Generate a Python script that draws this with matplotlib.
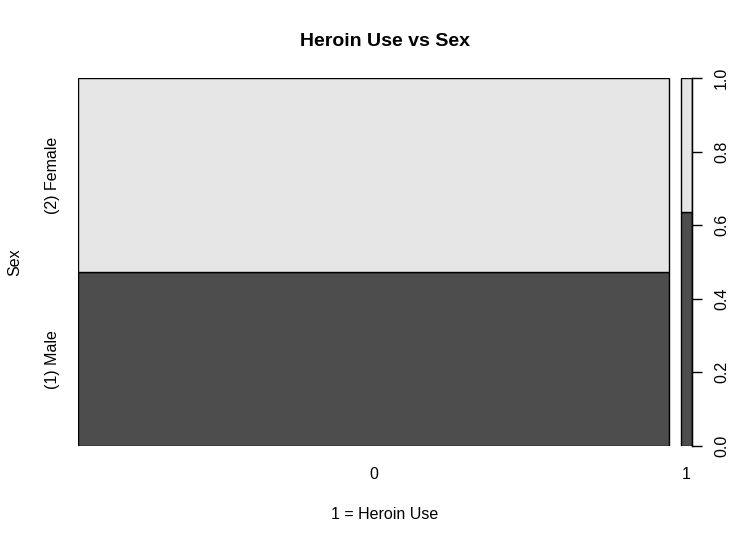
import matplotlib
matplotlib.use("Agg")
import matplotlib.pyplot as plt
import numpy as np

plt.rcParams['font.family'] = ['Liberation Sans', 'DejaVu Sans']

heroin_levels = ['0', '1']
heroin_share = [0.982, 0.018]      # share of respondents in each heroin-use group
male_share = [0.472, 0.635]        # share male within each group
sex_levels = ['(1) Male', '(2) Female']
right_ticks = [0.0, 0.2, 0.4, 0.6, 0.8, 1.0]
dark = '#4D4D4D'
light = '#E6E6E6'
gap = 0.02

W, H = 732, 544
fig = plt.figure(figsize=(W / 100, H / 100), dpi=100)
ax = fig.add_axes([78 / W, (H - 446) / H, (692 - 78) / W, (446 - 78) / H])

lefts = []
x = 0.0
for w in heroin_share:
    lefts.append(x)
    x += w + gap
lefts = np.array(lefts)
widths = np.array(heroin_share)
m = np.array(male_share)

ax.bar(lefts, m, width=widths, bottom=0, align='edge', color=dark, edgecolor='black', linewidth=1)
ax.bar(lefts, 1 - m, width=widths, bottom=m, align='edge', color=light, edgecolor='black', linewidth=1)

ax.set_xlim(0, lefts[-1] + widths[-1])
ax.set_ylim(0, 1)
for s in ['top', 'bottom', 'left']:
    ax.spines[s].set_visible(False)
ax.spines['right'].set_linewidth(1)

# x labels at bar centres
ax.set_xticks(lefts + widths / 2)
ax.set_xticklabels(heroin_levels, fontsize=11.5)
ax.tick_params(axis='x', length=0, pad=15)

# left labels at centre of first bar's segments
ax.set_yticks([m[0] / 2, m[0] + (1 - m[0]) / 2])
ax.set_yticklabels(sex_levels, rotation=90, va='center', fontsize=11.5)
ax.tick_params(axis='y', length=0, pad=13)

ax2 = ax.twinx()
ax2.set_ylim(0, 1)
for s in ['top', 'bottom', 'left']:
    ax2.spines[s].set_visible(False)
ax2.set_yticks(right_ticks)
ax2.set_yticklabels([f'{t:.1f}' for t in right_ticks], rotation=90, va='center', fontsize=11.5)
ax2.tick_params(axis='y', length=7, width=1, pad=9)

ax.set_xlabel('1 = Heroin Use', fontsize=11.5, labelpad=18)
ax.set_ylabel('Sex', fontsize=11.5, labelpad=16)
fig.text(385 / W, 1 - 41 / H, 'Heroin Use vs Sex', ha='center', va='center', fontsize=14, fontweight='bold')

fig.savefig('out.png', dpi=100)
